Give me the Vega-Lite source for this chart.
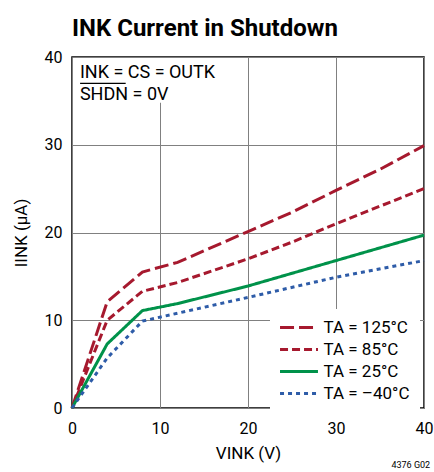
{
  "$schema": "https://vega.github.io/schema/vega-lite/v6.json",
  "width": 352,
  "height": 351,
  "autosize": {"type": "none"},
  "padding": {"left": 72, "top": 57, "right": 10, "bottom": 64},
  "background": "white",
  "title": {
    "text": "INK Current in Shutdown",
    "anchor": "start",
    "frame": "group",
    "font": "Roboto",
    "fontSize": 24,
    "fontWeight": "bold",
    "color": "black",
    "offset": 8
  },
  "config": {
    "font": "Roboto",
    "view": {"stroke": "black", "strokeWidth": 1.5},
    "axis": {
      "grid": true,
      "gridColor": "#808080",
      "gridWidth": 1,
      "gridOpacity": 1,
      "ticks": false,
      "domain": false,
      "labelFont": "Roboto",
      "labelFontSize": 16,
      "labelColor": "black",
      "labelFlush": false,
      "titleFont": "Roboto",
      "titleFontSize": 17,
      "titleFontWeight": "normal",
      "titleColor": "black"
    }
  },
  "layer": [
    {
      "data": {"values": [{"k": 1}]},
      "mark": {"type": "rect", "fill": "white"},
      "encoding": {
        "x": {"datum": 0.12, "type": "quantitative"},
        "x2": {"datum": 16.3},
        "y": {"datum": 39.9, "type": "quantitative"},
        "y2": {"datum": 34.8}
      }
    },
    {
      "data": {
        "values": [
          {"s": "TA = 125°C", "v": 0, "i": 0},
          {"s": "TA = 125°C", "v": 4, "i": 12.1},
          {"s": "TA = 125°C", "v": 8, "i": 15.5},
          {"s": "TA = 125°C", "v": 12, "i": 16.6},
          {"s": "TA = 125°C", "v": 20, "i": 20.1},
          {"s": "TA = 125°C", "v": 25, "i": 22.3},
          {"s": "TA = 125°C", "v": 30, "i": 24.8},
          {"s": "TA = 125°C", "v": 35, "i": 27.2},
          {"s": "TA = 125°C", "v": 40, "i": 29.9},
          {"s": "TA = 85°C", "v": 0, "i": 0},
          {"s": "TA = 85°C", "v": 4, "i": 10.0},
          {"s": "TA = 85°C", "v": 8, "i": 13.3},
          {"s": "TA = 85°C", "v": 12, "i": 14.3},
          {"s": "TA = 85°C", "v": 20, "i": 17.0},
          {"s": "TA = 85°C", "v": 25, "i": 18.9},
          {"s": "TA = 85°C", "v": 30, "i": 21.0},
          {"s": "TA = 85°C", "v": 35, "i": 23.0},
          {"s": "TA = 85°C", "v": 40, "i": 25.0},
          {"s": "TA = 25°C", "v": 0, "i": 0},
          {"s": "TA = 25°C", "v": 4, "i": 7.3},
          {"s": "TA = 25°C", "v": 8, "i": 11.1},
          {"s": "TA = 25°C", "v": 12, "i": 11.9},
          {"s": "TA = 25°C", "v": 20, "i": 13.9},
          {"s": "TA = 25°C", "v": 30, "i": 16.8},
          {"s": "TA = 25°C", "v": 40, "i": 19.7},
          {"s": "TA = –40°C", "v": 0, "i": 0},
          {"s": "TA = –40°C", "v": 4, "i": 5.7},
          {"s": "TA = –40°C", "v": 8, "i": 9.9},
          {"s": "TA = –40°C", "v": 12, "i": 10.8},
          {"s": "TA = –40°C", "v": 20, "i": 12.6},
          {"s": "TA = –40°C", "v": 30, "i": 14.9},
          {"s": "TA = –40°C", "v": 40, "i": 16.8}
        ]
      },
      "mark": {"type": "line", "strokeWidth": 3, "strokeCap": "butt"},
      "encoding": {
        "x": {
          "field": "v",
          "type": "quantitative",
          "scale": {"domain": [0, 40], "nice": false},
          "axis": {"values": [0, 10, 20, 30, 40], "title": "VINK (V)", "labelPadding": 12, "titlePadding": 9}
        },
        "y": {
          "field": "i",
          "type": "quantitative",
          "scale": {"domain": [0, 40], "nice": false},
          "axis": {"values": [0, 10, 20, 30, 40], "title": "IINK (µA)", "labelPadding": 10, "titlePadding": 14}
        },
        "color": {
          "field": "s",
          "type": "nominal",
          "scale": {
            "domain": ["TA = 125°C", "TA = 85°C", "TA = 25°C", "TA = –40°C"],
            "range": ["#a6192e", "#a6192e", "#00924a", "#2e5ca8"]
          },
          "legend": {
            "title": null,
            "orient": "none",
            "direction": "vertical",
            "legendX": 198,
            "legendY": 252,
            "fillColor": "white",
            "padding": 10,
            "symbolType": "M-3,0H3",
            "symbolSize": 160,
            "symbolStrokeWidth": 3,
            "symbolOffset": 10.5,
            "labelOffset": 16,
            "labelFont": "Roboto",
            "labelFontSize": 17,
            "labelColor": "black",
            "rowPadding": 4
          }
        },
        "strokeDash": {
          "field": "s",
          "type": "nominal",
          "scale": {
            "domain": ["TA = 125°C", "TA = 85°C", "TA = 25°C", "TA = –40°C"],
            "range": [[14, 5], [8, 4], [1, 0], [4, 4]]
          },
          "legend": {
            "title": null,
            "orient": "none",
            "direction": "vertical",
            "legendX": 198,
            "legendY": 252,
            "fillColor": "white",
            "padding": 10,
            "symbolType": "M-3,0H3",
            "symbolSize": 160,
            "symbolStrokeWidth": 3,
            "symbolOffset": 10.5,
            "labelOffset": 16,
            "labelFont": "Roboto",
            "labelFontSize": 17,
            "labelColor": "black",
            "rowPadding": 4
          }
        }
      }
    },
    {
      "data": {"values": [{"t": "INK = CS = OUTK"}]},
      "mark": {"type": "text", "align": "left", "baseline": "alphabetic", "font": "Roboto", "fontSize": 18, "color": "black"},
      "encoding": {
        "x": {"datum": 0.9, "type": "quantitative"},
        "y": {"datum": 37.57, "type": "quantitative"},
        "text": {"field": "t"}
      }
    },
    {
      "data": {"values": [{"t": "SHDN = 0V"}]},
      "mark": {"type": "text", "align": "left", "baseline": "alphabetic", "font": "Roboto", "fontSize": 18, "color": "black"},
      "encoding": {
        "x": {"datum": 0.9, "type": "quantitative"},
        "y": {"datum": 35.1, "type": "quantitative"},
        "text": {"field": "t"}
      }
    },
    {
      "data": {"values": [{"k": 1}]},
      "mark": {"type": "rule", "strokeWidth": 1.2, "color": "black"},
      "encoding": {
        "x": {"datum": 0.92, "type": "quantitative"},
        "x2": {"datum": 6.1},
        "y": {"datum": 37.0, "type": "quantitative"}
      }
    },
    {
      "data": {"values": [{"t": "4376 G02"}]},
      "mark": {"type": "text", "align": "right", "baseline": "alphabetic", "font": "Roboto", "fontSize": 9, "color": "black"},
      "encoding": {
        "x": {"datum": 40.7, "type": "quantitative"},
        "y": {"datum": -6.85, "type": "quantitative"},
        "text": {"field": "t"}
      }
    }
  ]
}
